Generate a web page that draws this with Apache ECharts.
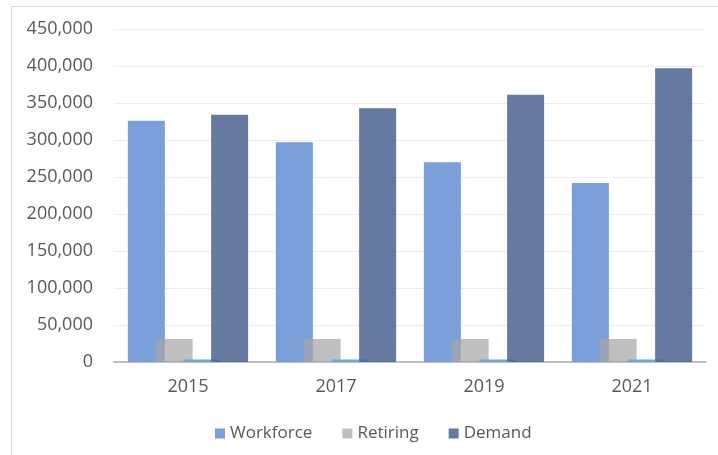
<!DOCTYPE html>
<html>
<head>
<meta charset="utf-8">
<script src="https://cdn.jsdelivr.net/npm/echarts@6/dist/echarts.min.js"></script>
<style>
  html, body { margin: 0; padding: 0; background: #fff; }
  #chart { width: 718px; height: 455px; }
</style>
</head>
<body>
<div id="chart"></div>
<script>
// values
var years = ['2015', '2017', '2019', '2021'];
var workforce = [326000, 297000, 270000, 242000];
var retiring = [31000, 31000, 31000, 31000];
var other = [3500, 3500, 3500, 3500];
var demand = [334000, 343000, 361000, 397000];
var yTicks = { min: 0, max: 450000, step: 50000 };

var myChart = echarts.init(document.getElementById('chart'));
var font = '"Open Sans", sans-serif';

var option = {
    animation: false,
    // outer chart border
    graphic: [{
        type: 'rect',
        shape: { x: 11.5, y: 6.5, width: 720, height: 460 },
        style: { fill: 'none', stroke: '#d9d9d9', lineWidth: 1 },
        silent: true
    }],
    grid: { left: 114, right: 12, top: 29, bottom: 93 },
    legend: {
        top: 420,
        left: 210,
        itemWidth: 10,
        itemHeight: 10,
        itemGap: 30,
        icon: 'rect',
        data: ['Workforce', 'Retiring', 'Demand'],
        textStyle: { color: '#595959', fontSize: 17, fontFamily: font }
    },
    xAxis: {
        type: 'category',
        data: years,
        axisTick: { show: false },
        axisLine: { lineStyle: { color: '#bfbfbf', width: 2 } },
        axisLabel: { color: '#595959', fontSize: 18, fontFamily: font, margin: 16 }
    },
    yAxis: {
        type: 'value',
        min: yTicks.min,
        max: yTicks.max,
        interval: yTicks.step,
        axisLine: { show: false },
        axisTick: { show: false },
        splitLine: { lineStyle: { color: '#ededed', width: 1 } },
        axisLabel: {
            color: '#595959', fontSize: 18, fontFamily: font, margin: 21,
            formatter: function (v) { return v.toLocaleString('en-US'); }
        }
    },
    series: [
        { name: 'Workforce', type: 'bar', data: workforce, barWidth: 37, barGap: '-25%',
          itemStyle: { color: '#7a9fd9' } },
        { name: 'Retiring', type: 'bar', data: retiring, barWidth: 37, barGap: '-25%',
          itemStyle: { color: 'rgba(166,166,166,0.72)' } },
        { name: 'Other', type: 'bar', data: other, barWidth: 37, barGap: '-25%',
          itemStyle: { color: '#6fa8dc' } },
        { name: 'Demand', type: 'bar', data: demand, barWidth: 37, barGap: '-25%',
          itemStyle: { color: 'rgba(80,104,148,0.88)' } }
    ]
};
myChart.setOption(option);
</script>
</body>
</html>
